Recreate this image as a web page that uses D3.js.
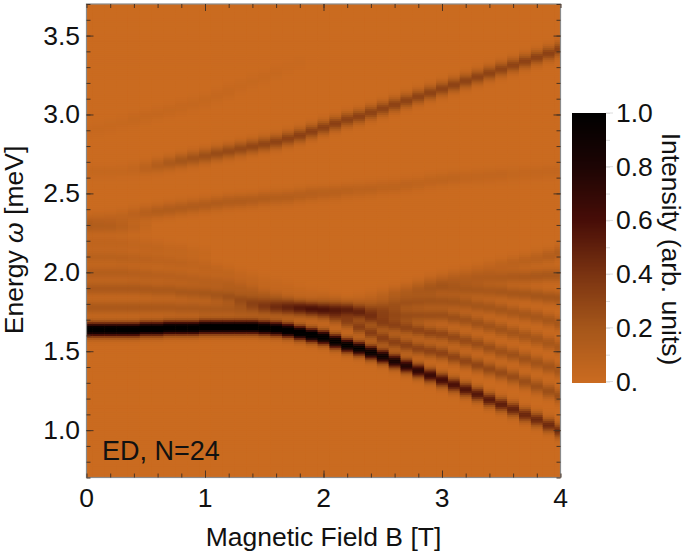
<!DOCTYPE html>
<html>
<head>
<meta charset="utf-8">
<script src="https://cdn.jsdelivr.net/npm/d3@7"></script>
<style>
  html, body { margin: 0; padding: 0; background: #fff; }
  svg text { font-family: "Liberation Sans", Arial, sans-serif; fill: #111; }
</style>
</head>
<body>
<div id="chart"></div>
<script>
// field values, one per heatmap column
const fieldB = [0,.1,.2,.3,.4,.5,.6,.7,.8,.9, 1,1.1,1.2,1.3,1.4,1.5,1.6,1.7,1.8,1.9, 2,2.1,2.2,2.3,2.4,2.5,2.6,2.7,2.8,2.9, 3,3.1,3.2,3.3,3.4,3.5,3.6,3.7,3.8,3.9, 4];

// line energies (meV), 41 per line, null = line not visible
const mainE = [1.64,1.64,1.64,1.64,1.64,1.645,1.645,1.65,1.65,1.65, 1.655,1.655,1.655,1.655,1.655,1.65,1.645,1.635,1.62,1.605, 1.59,1.565,1.54,1.52,1.495,1.47,1.44,1.41,1.38,1.35, 1.32,1.29,1.26,1.23,1.195,1.165,1.135,1.10,1.07,1.035, 1.0];
const fan1E = [1.78,1.78,1.78,1.78,1.78,1.78,1.78,1.78,1.775,1.775, 1.77,1.77,1.77,1.765,1.765,1.76,1.76,1.755,1.75,1.745, 1.735,1.715,1.69,1.655,1.62,1.585,1.56,1.54,1.52,1.505, 1.49,1.465,1.44,1.415,1.39,1.365,1.34,1.31,1.28,1.25, 1.22];
const fan2E = [1.9,1.9,1.9,1.9,1.9,1.895,1.89,1.89,1.88,1.875, 1.87,1.86,1.85,1.83,1.815,1.80,1.79,1.785,1.78,1.775, 1.77,1.765,1.76,1.74,1.71,1.68,1.665,1.65,1.635,1.62, 1.61,1.59,1.57,1.55,1.525,1.50,1.48,1.455,1.43,1.405, 1.38];
const fan3E = [2,2,2,2,1.995,1.99,1.985,1.98,1.97,1.96, 1.95,1.94,1.925,1.905,1.885,1.86,1.84,1.82,1.80,1.79, 1.785,1.78,1.77,1.76,1.75,1.74,1.735,1.73,1.73,1.73, 1.73,1.715,1.70,1.68,1.66,1.64,1.62,1.60,1.58,1.555, 1.53];
const fan4E = [2.1,2.1,2.1,2.095,2.09,2.085,2.08,2.07,2.06,2.05, 2.035,2.02,2.0,1.98,1.96,1.94,1.92,1.90,1.88,1.86, 1.84,1.82,1.80,1.79,1.785,1.79,1.80,1.81,1.815,1.82, 1.82,1.815,1.805,1.79,1.78,1.765,1.75,1.735,1.72,1.70, 1.68];
const fan5E = [2.19,2.19,2.19,2.185,2.18,2.17,2.16,2.15,2.14,2.13, 2.12,null,null,null,null,null,null,null,null,null, null,null,null,1.83,1.84,1.855,1.865,1.875,1.885,1.895, 1.905,1.90,1.895,1.89,1.885,1.88,1.87,1.865,1.855,1.845, 1.84];
const fan6E = [2.29,2.29,2.29,2.29,2.29,2.29,null,null,null,null, null,null,null,null,null,null,null,null,null,null, null,null,null,null,null,null,1.88,1.90,1.92,1.935, 1.945,1.955,1.96,1.965,1.97,1.97,1.975,1.975,1.98,1.985, 1.985];
const fan7E = [null,null,null,null,null,null,null,null,null,null, null,null,null,null,null,null,null,null,null,null, null,null,null,null,null,null,null,null,null,1.95, 1.97,1.985,2.0,2.015,2.03,2.045,2.06,2.075,2.09,2.105, 2.125];
const upper1E = [2.64,2.64,2.64,2.645,2.655,2.665,2.68,2.695,2.71,2.725, 2.74,2.755,2.77,2.785,2.80,2.815,2.83,2.85,2.87,2.895, 2.92,2.945,2.97,2.99,3.015,3.04,3.065,3.09,3.115,3.14, 3.165,3.19,3.215,3.24,3.265,3.29,3.315,3.34,3.365,3.39, 3.415];
const upper2E = [2.33,2.34,2.345,2.355,2.37,2.38,2.39,2.40,2.41,2.42, 2.43,2.44,2.45,2.455,2.46,2.47,2.475,2.48,2.49,2.50, 2.505,2.51,2.52,2.525,2.53,2.54,2.545,2.555,2.565,2.58, 2.59,2.60,2.605,2.61,2.615,2.62,2.625,2.63,2.635,2.64, 2.645];
const upper3E = [2.90,2.91,2.93,2.95,2.97,2.99,3.01,3.03,3.05,3.07, 3.09,3.12,3.15,3.18,3.21,3.24,3.27,3.30,3.33,null, null,null,null,null,null,null,null,null,null,null, null,null,null,null,null,null,null,null,null,null, null];

// peak intensity of each line at each field
const mainI = [1.12,1.12,1.12,1.12,1.12,1.12,1.12,1.12,1.12,1.12, 1.12,1.12,1.12,1.12,1.12,1.12,1.12,1.12,1.1,1.1, 1.08,1.05,1.02,1,.97,.92,.85,.78,.72,.66, .62,.59,.57,.55,.53,.51,.49,.47,.46,.45, .44];
const fan1I = [.17,.17,.17,.17,.17,.17,.17,.17,.17,.17, .17,.17,.17,.17,.17,.17,.17,.17,.17,.18, .2,.25,.3,.33,.34,.34,.33,.33,.32,.32, .32,.31,.3,.3,.28,.27,.26,.25,.24,.24, .24];
const fan2I = [.17,.17,.17,.17,.17,.17,.17,.17,.18,.18, .19,.2,.22,.24,.26,.28,.3,.32,.34,.36, .36,.36,.33,.3,.3,.3,.3,.3,.3,.3, .29,.28,.27,.26,.25,.24,.24,.23,.22,.21, .2];
const fan3I = [.12,.12,.12,.12,.11,.11,.1,.1,.1,.1, .1,.1,.11,.12,.12,.12,.12,.12,.12,.12, .12,.12,.14,.17,.2,.24,.24,.24,.24,.24, .24,.24,.23,.23,.22,.22,.21,.2,.2,.19, .19];
const fan4I = [.09,.09,.09,.09,.08,.08,.07,.07,.07,.06, .06,.05,.05,.04,.04,.03,.03,.03,.03,.03, .05,.06,.08,.1,.13,.17,.2,.21,.21,.21, .21,.21,.2,.2,.2,.2,.19,.19,.19,.19, .19];
const fan5I = [.06,.06,.06,.06,.05,.05,.05,.04,.04,.03, .02,0,0,0,0,0,0,0,0,0, 0,0,0,.03,.05,.07,.09,.11,.14,.16, .17,.17,.18,.18,.18,.19,.19,.19,.2,.2, .2];
const fan6I = [.11,.11,.11,.09,.06,.03,0,0,0,0, 0,0,0,0,0,0,0,0,0,0, 0,0,0,0,0,0,.02,.03,.05,.07, .08,.1,.11,.13,.14,.15,.16,.17,.18,.18, .18];
const fan7I = [0,0,0,0,0,0,0,0,0,0, 0,0,0,0,0,0,0,0,0,0, 0,0,0,0,0,0,0,0,0,.01, .02,.03,.04,.05,.06,.07,.08,.09,.1,.12, .13];
const upper1I = [.03,.03,.03,.03,.04,.08,.12,.16,.2,.22, .24,.26,.27,.28,.29,.3,.31,.32,.33,.33, .33,.33,.32,.32,.31,.31,.31,.31,.31,.31, .31,.31,.31,.31,.31,.31,.31,.32,.32,.32, .32];
const upper2I = [.07,.06,.06,.06,.08,.11,.13,.14,.14,.14, .14,.14,.14,.14,.13,.13,.12,.12,.11,.11, .1,.1,.09,.08,.08,.07,.07,.07,.06,.06, .06,.06,.05,.05,.05,.05,.04,.04,.04,.04, .04];
const upper3I = [.02,.02,.02,.02,.03,.03,.03,.03,.03,.03, .03,.03,.03,.02,.02,.02,.02,.01,.01,0, 0,0,0,0,0,0,0,0,0,0, 0,0,0,0,0,0,0,0,0,0, 0];

const lineEnergies = [mainE, fan1E, fan2E, fan3E, fan4E, fan5E, fan6E, fan7E, upper1E, upper2E, upper3E];
const lineIntensities = [mainI, fan1I, fan2I, fan3I, fan4I, fan5I, fan6I, fan7I, upper1I, upper2I, upper3I];

const xTicks = [0, 1, 2, 3, 4];
const yTicks = [1.0, 1.5, 2.0, 2.5, 3.0, 3.5];
const legendTicks = [0, 0.2, 0.4, 0.6, 0.8, 1.0];
const colorStops = [0, 0.2, 0.4, 0.6, 0.8, 1];
const colorValues = ["#ca6b20", "#a5561a", "#7a3311", "#470d07", "#1d0504", "#000000"];

const width = 685;
const height = 555;
const margin = { left: 86.5, right: 560.5, top: 4, bottom: 477.5 };
const lineSigma = 0.03;
const rowStep = 0.0125;

const svg = d3.select("#chart").append("svg")
    .attr("width", width)
    .attr("height", height);

const x = d3.scaleLinear().domain([0, 4]).range([margin.left, margin.right]);
const y = d3.scaleLinear().domain([0.7, 3.7]).range([margin.bottom, margin.top]);
const color = d3.scaleLinear().domain(colorStops).range(colorValues).clamp(true);

svg.append("clipPath").attr("id", "plotClip")
    .append("rect")
    .attr("x", margin.left).attr("y", margin.top)
    .attr("width", margin.right - margin.left)
    .attr("height", margin.bottom - margin.top);

// intensity in one cell = sum of the lines crossing it, broadened in energy
function cellValue(col, e) {
    let sum = 0;
    lineEnergies.forEach((line, k) => {
        if (line[col] == null) return;
        const d = (e - line[col]) / lineSigma;
        sum += lineIntensities[k][col] * Math.exp(-0.5 * d * d);
    });
    return sum;
}

const rows = d3.range(0.7, 3.7, rowStep);
const cells = [];
fieldB.forEach((b, col) => rows.forEach(e => cells.push({ b, col, e })));

svg.append("rect")
    .attr("x", margin.left).attr("y", margin.top)
    .attr("width", margin.right - margin.left)
    .attr("height", margin.bottom - margin.top)
    .attr("fill", color(0));

const heat = svg.append("g").attr("clip-path", "url(#plotClip)")
    .append("g").style("filter", "blur(0.7px)");

heat.selectAll("rect").data(cells).enter().append("rect")
    .attr("x", d => x(Math.max(0, d.b - 0.05)))
    .attr("width", d => x(Math.min(4, d.b + 0.05)) - x(Math.max(0, d.b - 0.05)) + 0.5)
    .attr("y", d => y(d.e + rowStep))
    .attr("height", y(0.7) - y(0.7 + rowStep) + 0.5)
    .attr("fill", d => color(cellValue(d.col, d.e + rowStep / 2)));

// frame
svg.append("rect")
    .attr("x", margin.left).attr("y", margin.top)
    .attr("width", margin.right - margin.left)
    .attr("height", margin.bottom - margin.top)
    .attr("fill", "none")
    .attr("stroke", "#8a8a8a")
    .attr("stroke-width", 1.2);

// tick marks on all four sides, inward
const xMinor = d3.range(0, 4.01, 0.2);
const yMinor = d3.range(0.7, 3.71, 0.1);

function tickAxis(axisFn, scale, values, size, transform) {
    const g = svg.append("g")
        .attr("transform", transform)
        .call(axisFn(scale).tickValues(values).tickSize(size).tickSizeOuter(0).tickFormat(""));
    g.select(".domain").remove();
    g.selectAll("line").attr("stroke", "#4a3322").attr("stroke-width", 1);
}

tickAxis(d3.axisBottom, x, xMinor, -4, `translate(0,${margin.bottom})`);
tickAxis(d3.axisBottom, x, xTicks.slice(1, 4), -7, `translate(0,${margin.bottom})`);
tickAxis(d3.axisTop, x, xMinor, -4, `translate(0,${margin.top})`);
tickAxis(d3.axisTop, x, xTicks.slice(1, 4), -7, `translate(0,${margin.top})`);
tickAxis(d3.axisLeft, y, yMinor, -4, `translate(${margin.left},0)`);
tickAxis(d3.axisLeft, y, yTicks, -7, `translate(${margin.left},0)`);
tickAxis(d3.axisRight, y, yMinor, -4, `translate(${margin.right},0)`);
tickAxis(d3.axisRight, y, yTicks, -7, `translate(${margin.right},0)`);

// tick labels
const labelSize = 26.5;
svg.append("g").selectAll("text").data(xTicks).enter().append("text")
    .attr("x", d => x(d)).attr("y", 507)
    .attr("text-anchor", "middle").attr("font-size", labelSize)
    .text(d => d);

svg.append("g").selectAll("text").data(yTicks).enter().append("text")
    .attr("x", 80).attr("y", d => y(d) + 9)
    .attr("text-anchor", "end").attr("font-size", labelSize)
    .text(d => d.toFixed(1));

svg.append("text")
    .attr("x", 323.5).attr("y", 546)
    .attr("text-anchor", "middle").attr("font-size", labelSize)
    .text("Magnetic Field B [T]");

const yTitle = svg.append("text")
    .attr("transform", "translate(23,240) rotate(-90)")
    .attr("text-anchor", "middle").attr("font-size", labelSize);
yTitle.append("tspan").text("Energy ");
yTitle.append("tspan").attr("font-style", "italic").text("ω");
yTitle.append("tspan").text(" [meV]");

svg.append("text")
    .attr("x", 102).attr("y", 460)
    .attr("font-size", 27)
    .text("ED, N=24");

// colour bar
const legendX = 572;
const legendW = 34;
const legendY = d3.scaleLinear().domain([0, 1]).range([381.5, 113]);
const legendSteps = d3.range(0, 1, 0.005);

svg.append("g").attr("shape-rendering", "crispEdges")
    .selectAll("rect").data(legendSteps).enter().append("rect")
    .attr("x", legendX)
    .attr("width", legendW)
    .attr("y", d => legendY(d + 0.005))
    .attr("height", legendY(0) - legendY(0.005) + 1)
    .attr("fill", d => color(d));

const legendAxis = svg.append("g")
    .attr("transform", `translate(${legendX + legendW},0)`)
    .call(d3.axisRight(legendY).tickValues(d3.range(0, 1.01, 0.1)).tickSize(4).tickSizeOuter(0).tickFormat(""));
legendAxis.select(".domain").remove();
legendAxis.selectAll("line").attr("stroke", "#dcdcdc");

svg.append("g").selectAll("line").data(legendTicks).enter().append("line")
    .attr("x1", legendX + legendW).attr("x2", legendX + legendW + 7)
    .attr("y1", d => legendY(d)).attr("y2", d => legendY(d))
    .attr("stroke", "#dcdcdc");

svg.append("g").selectAll("text").data(legendTicks).enter().append("text")
    .attr("x", 616).attr("y", d => legendY(d) + 9)
    .attr("font-size", labelSize)
    .text(d => d === 0 ? "0." : d.toFixed(1));

svg.append("text")
    .attr("transform", "translate(662,249) rotate(90)")
    .attr("text-anchor", "middle").attr("font-size", labelSize)
    .text("Intensity (arb. units)");
</script>
</body>
</html>
